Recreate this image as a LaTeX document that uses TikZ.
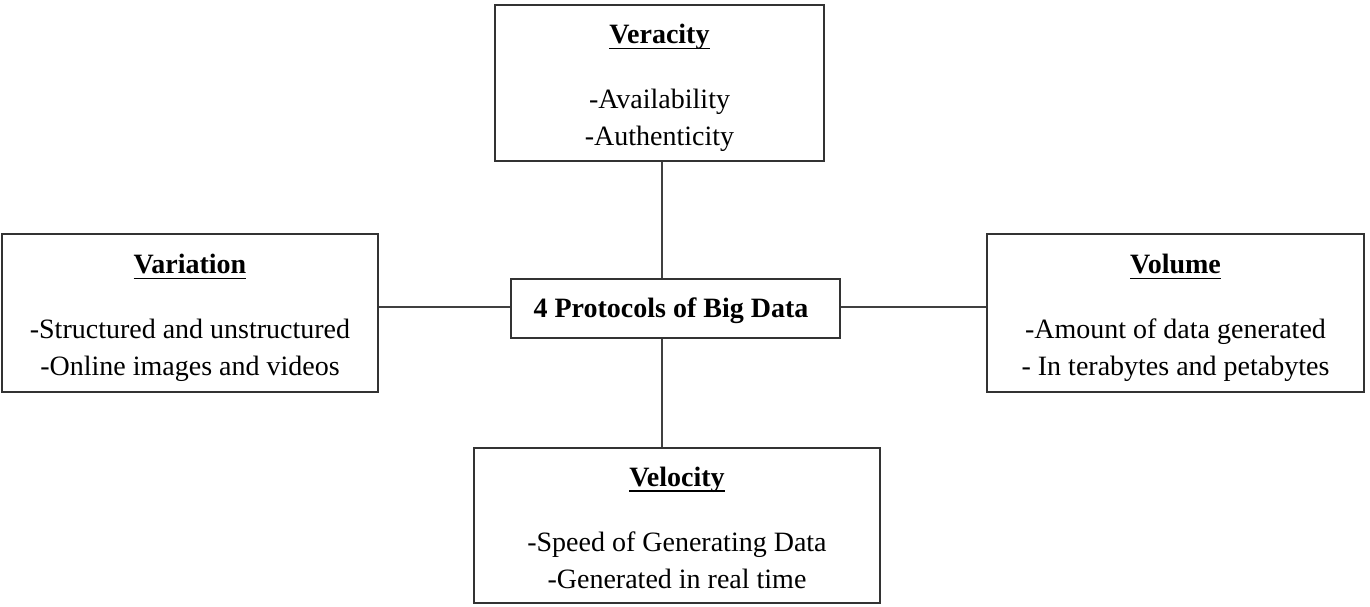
\documentclass[tikz,border=0pt]{standalone}
\usepackage{fontspec}
\setmainfont{Liberation Serif}
\usetikzlibrary{calc}
\newcommand\titleul[1]{\setbox0\hbox{\bfseries #1}\rlap{\rule[-5.5pt]{\wd0}{1.9pt}}\box0}
\begin{document}
\begin{tikzpicture}[x=1pt,y=-1pt,
  box/.style={draw=black!80,line width=1.4pt,inner sep=0pt,fill=white},
  txt/.style={inner sep=0pt,align=center,font=\fontsize{28}{36.5}\selectfont},
  link/.style={draw=black!75,line width=1.4pt}]
\useasboundingbox (0,0) rectangle (1370,607);
% boxes
\node[box,minimum width=329pt,minimum height=156pt] (ver) at (659.5,83) {};
\node[box,minimum width=329pt,minimum height=59pt] (cen) at (675.5,308.5) {};
\node[box,minimum width=376pt,minimum height=158pt] (var) at (190,313) {};
\node[box,minimum width=377pt,minimum height=158pt] (vol) at (1175.5,313) {};
\node[box,minimum width=406pt,minimum height=155pt] (vel) at (677,525.5) {};
% texts
\node[txt] (vert) at (659.5,88) {\titleul{Veracity}\\[28.5pt]-Availability\\-Authenticity};
\node[txt,font=\fontsize{28}{36.5}\selectfont\bfseries] (cent) at (671,310.5) {4 Protocols of Big Data};
\node[txt] (vart) at (190,318) {\titleul{Variation}\\[28.5pt]-Structured and unstructured\\-Online images and videos};
\node[txt] (volt) at (1175.5,318) {\titleul{Volume}\\[28.5pt]-Amount of data generated\\- In terabytes and petabytes};
\node[txt] (velt) at (677,528) {\titleul{Velocity}\\[28.5pt]-Speed of Generating Data\\-Generated in real time};
% connectors
\coordinate (vx) at ($(ver.south)+(2.5,0)$);
\draw[link] (vx) -- (vx |- cen.north);
\draw[link] (vx |- cen.south) -- (vx |- vel.north);
\coordinate (hy) at ($(cen.west)+(0,-1.5)$);
\draw[link] (var.east |- hy) -- (hy);
\draw[link] (cen.east |- hy) -- (vol.west |- hy);
\end{tikzpicture}
\end{document}
